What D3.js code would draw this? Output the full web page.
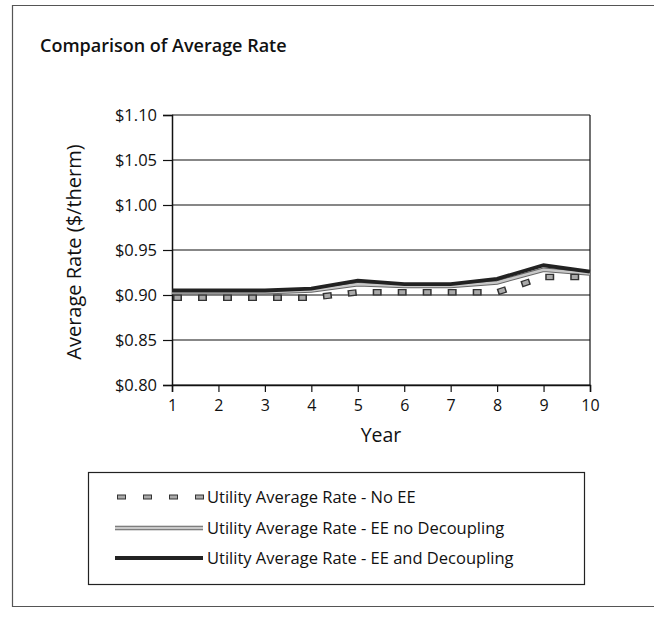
<!DOCTYPE html>
<html><head><meta charset="utf-8">
<script src="https://cdn.jsdelivr.net/npm/d3@7"></script>
<style>body{margin:0;background:#fff} text{font-family:"Open Sans",sans-serif;fill:#111}</style>
</head><body><svg id="c" width="654" height="623"></svg>
<script>
const years=[1,2,3,4,5,6,7,8,9,10];
const noEE=[0.897,0.897,0.897,0.897,0.903,0.903,0.903,0.903,0.920,0.920];
const eeNoDecoupling=[0.903,0.903,0.903,0.905,0.912,0.910,0.910,0.914,0.928,0.924];
const eeDecoupling=[0.905,0.905,0.905,0.907,0.916,0.912,0.912,0.918,0.933,0.926];
const yTicks=[0.80,0.85,0.90,0.95,1.00,1.05,1.10];
const seriesNames=["Utility Average Rate - No EE","Utility Average Rate - EE no Decoupling","Utility Average Rate - EE and Decoupling"];

const svg=d3.select("#c");
const L=172,R=590,T=115,B=385;
const x=d3.scaleLinear().domain([1,10]).range([L,R]);
const y=d3.scaleLinear().domain([0.80,1.10]).range([B,T]);

// outer frame
svg.append("path").attr("d","M700,5.5 H12.5 V606.5 H700").attr("fill","none").attr("stroke","#555").attr("stroke-width",1.2);

svg.append("text").attr("x",40).attr("y",52).attr("font-size",18).attr("font-weight",600).text("Comparison of Average Rate");

// gridlines
svg.append("g").selectAll("line").data(yTicks).join("line")
  .attr("x1",L).attr("x2",R).attr("y1",d=>y(d)).attr("y2",d=>y(d))
  .attr("stroke","#111").attr("stroke-width",1.2);
svg.append("line").attr("x1",R).attr("x2",R).attr("y1",T).attr("y2",B).attr("stroke","#111").attr("stroke-width",1.2);

const fmt=d=>"$"+d3.format(".2f")(d);
const ya=svg.append("g").attr("transform",`translate(${L},0)`)
  .call(d3.axisLeft(y).tickValues(yTicks).tickFormat(fmt).tickSize(9).tickPadding(6));
ya.select(".domain").attr("stroke","#111").attr("stroke-width",1.5);
ya.selectAll(".tick line").attr("stroke","#111").attr("stroke-width",1.2);
ya.selectAll("text").attr("font-size",16.5).attr("font-family","Open Sans").attr("fill","#111");

const xa=svg.append("g").attr("transform",`translate(0,${B})`)
  .call(d3.axisBottom(x).tickValues(years).tickFormat(d3.format("d")).tickSize(7).tickPadding(8));
xa.select(".domain").attr("stroke","#111").attr("stroke-width",1.5);
xa.selectAll(".tick line").attr("stroke","#111").attr("stroke-width",1.2);
xa.selectAll("text").attr("font-size",16).attr("font-family","Open Sans").attr("fill","#111");

svg.append("text").attr("x",(L+R)/2).attr("y",442).attr("text-anchor","middle").attr("font-size",19.5).text("Year");
svg.append("text").attr("transform",`translate(81,252) rotate(-90)`).attr("text-anchor","middle").attr("font-size",20).text("Average Rate ($/therm)");

const line=d3.line().x((d,i)=>x(years[i])).y(d=>y(d));

// EE no decoupling: light gray with dark edges
svg.append("path").datum(eeNoDecoupling).attr("d",line).attr("fill","none").attr("stroke","#666").attr("stroke-width",4.5);
svg.append("path").datum(eeNoDecoupling).attr("d",line).attr("fill","none").attr("stroke","#c8c8c8").attr("stroke-width",2.5);
// EE and decoupling: dark
svg.append("path").datum(eeDecoupling).attr("d",line).attr("fill","none").attr("stroke","#222").attr("stroke-width",3.8);
// No EE: square dashes
svg.append("path").datum(noEE).attr("d",line).attr("fill","none").attr("stroke","#333").attr("stroke-width",6.5).attr("stroke-dasharray","9,16").attr("stroke-dashoffset",-1);
svg.append("path").datum(noEE).attr("d",line).attr("fill","none").attr("stroke","#aaa").attr("stroke-width",4).attr("stroke-dasharray","6,19").attr("stroke-dashoffset",-2.5);

// legend
svg.append("rect").attr("x",88.5).attr("y",472.5).attr("width",496).attr("height",112).attr("fill","none").attr("stroke","#222").attr("stroke-width",1.2);
const rows=[497,528,558];
const lg=svg.append("g");
lg.append("line").attr("x1",117).attr("x2",205).attr("y1",rows[0]).attr("y2",rows[0]).attr("stroke","#333").attr("stroke-width",5).attr("stroke-dasharray","9,17");
lg.append("line").attr("x1",118).attr("x2",205).attr("y1",rows[0]).attr("y2",rows[0]).attr("stroke","#aaa").attr("stroke-width",3).attr("stroke-dasharray","7,19");
lg.append("line").attr("x1",115).attr("x2",203).attr("y1",rows[1]).attr("y2",rows[1]).attr("stroke","#666").attr("stroke-width",4.5);
lg.append("line").attr("x1",115).attr("x2",203).attr("y1",rows[1]).attr("y2",rows[1]).attr("stroke","#c8c8c8").attr("stroke-width",2.5);
lg.append("line").attr("x1",115).attr("x2",203).attr("y1",rows[2]).attr("y2",rows[2]).attr("stroke","#222").attr("stroke-width",4);
lg.selectAll("text").data(seriesNames).join("text")
  .attr("x",207).attr("y",(d,i)=>rows[i]+6).attr("font-size",16.5).text(d=>d);
</script></body></html>
